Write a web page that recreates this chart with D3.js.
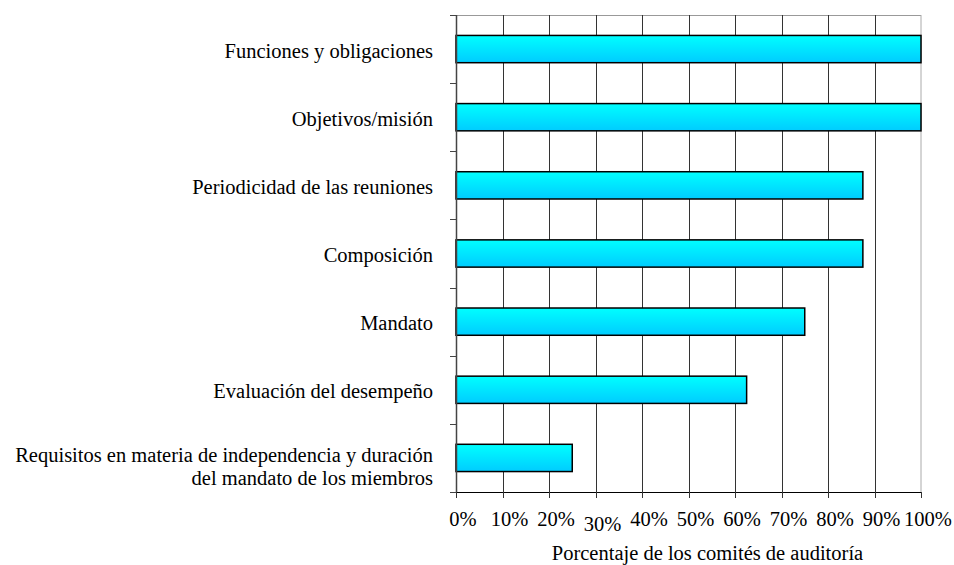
<!DOCTYPE html>
<html>
<head>
<meta charset="utf-8">
<script src="https://cdn.jsdelivr.net/npm/d3@7"></script>
<style>
  body { margin: 0; background: #fff; }
</style>
</head>
<body>
<div id="chart"></div>
<script>
const categories = [
  "Funciones y obligaciones",
  "Objetivos/misión",
  "Periodicidad de las reuniones",
  "Composición",
  "Mandato",
  "Evaluación del desempeño",
  "Requisitos en materia de independencia y duración|del mandato de los miembros",
];
const values = [100, 100, 87.5, 87.5, 75, 62.5, 25];
const ticks = [0, 10, 20, 30, 40, 50, 60, 70, 80, 90, 100];
const xTitle = "Porcentaje de los comités de auditoría";

const width = 954;
const height = 565;
const margin = { top: 15, right: 33, bottom: 73, left: 456 };
const w = width - margin.left - margin.right;
const h = height - margin.top - margin.bottom;
const fs = 20.5;
const font = "'Liberation Serif', 'Times New Roman', serif";

const svg = d3
  .select("#chart")
  .append("svg")
  .attr("width", width)
  .attr("height", height);

const defs = svg.append("defs");
const grad = defs
  .append("linearGradient")
  .attr("id", "barFill")
  .attr("x1", 0).attr("y1", 0)
  .attr("x2", 0).attr("y2", 1);
grad.append("stop").attr("offset", "0%").attr("stop-color", "#00ffff");
grad.append("stop").attr("offset", "100%").attr("stop-color", "#00ccff");

const g = svg
  .append("g")
  .attr("transform", `translate(${margin.left},${margin.top})`);

const x = d3.scaleLinear().domain([0, 100]).range([0, w]);
const y = d3.scaleBand().domain(categories).range([0, h]).paddingInner(0.6).paddingOuter(0.3);

// plot frame (top + right)
g.append("line")
  .attr("x1", 0).attr("x2", w).attr("y1", 0.5).attr("y2", 0.5)
  .attr("stroke", "#999");
g.append("line")
  .attr("x1", w).attr("x2", w).attr("y1", 0).attr("y2", h)
  .attr("stroke", "#aaa");

// vertical gridlines
g.append("g")
  .selectAll("line")
  .data(ticks.slice(1, -1))
  .enter()
  .append("line")
  .attr("x1", (d) => Math.round(x(d)) + 0.5)
  .attr("x2", (d) => Math.round(x(d)) + 0.5)
  .attr("y1", 0)
  .attr("y2", h)
  .attr("stroke", "#333");

// bars
g.append("g")
  .selectAll("rect")
  .data(categories)
  .enter()
  .append("rect")
  .attr("x", 0)
  .attr("y", (d) => y(d))
  .attr("width", (d, i) => x(values[i]))
  .attr("height", y.bandwidth())
  .attr("fill", "url(#barFill)")
  .attr("stroke", "#000")
  .attr("stroke-width", 1.5);

// left axis, ticks sit between the categories
const bounds = d3.range(categories.length + 1).map((i) => i * (h / categories.length));
const left = g.append("g");
left.append("line")
  .attr("x1", 0.5).attr("x2", 0.5).attr("y1", 0).attr("y2", h)
  .attr("stroke", "#444").attr("stroke-width", 1.5);
left.selectAll("line.tk")
  .data(bounds)
  .enter()
  .append("line")
  .attr("class", "tk")
  .attr("x1", -6).attr("x2", 0)
  .attr("y1", (d) => Math.round(d) + 0.5)
  .attr("y2", (d) => Math.round(d) + 0.5)
  .attr("stroke", "#444");

// category labels
left.selectAll("text")
  .data(categories)
  .enter()
  .append("text")
  .attr("text-anchor", "end")
  .style("font-family", font)
  .style("font-size", fs + "px")
  .each(function (d) {
    const lines = d.split("|");
    const t = d3.select(this);
    const cy = y(d) + y.bandwidth() / 2;
    const y0 = lines.length > 1 ? cy + 4 : cy + 8.5;
    lines.forEach((ln, k) => {
      t.append("tspan").attr("x", -23).attr("y", y0 + k * 23).text(ln);
    });
  });

// bottom axis
const bottom = g.append("g").attr("transform", `translate(0,${h})`);
bottom.append("line")
  .attr("x1", 0).attr("x2", w).attr("y1", 0.5).attr("y2", 0.5)
  .attr("stroke", "#000");
bottom.selectAll("line.tk")
  .data(ticks)
  .enter()
  .append("line")
  .attr("class", "tk")
  .attr("x1", (d) => Math.round(x(d)) + 0.5)
  .attr("x2", (d) => Math.round(x(d)) + 0.5)
  .attr("y1", 0)
  .attr("y2", 6)
  .attr("stroke", "#333");
bottom.selectAll("text")
  .data(ticks)
  .enter()
  .append("text")
  .attr("x", (d) => x(d) + 7)
  .attr("y", (d) => (d === 30 ? 39 : 34))
  .attr("text-anchor", "middle")
  .style("font-family", font)
  .style("font-size", fs + "px")
  .text((d) => d + "%");

svg.append("text")
  .attr("x", margin.left + w / 2 + 19)
  .attr("y", 560)
  .attr("text-anchor", "middle")
  .style("font-family", font)
  .style("font-size", fs + "px")
  .text(xTitle);
</script>
</body>
</html>
